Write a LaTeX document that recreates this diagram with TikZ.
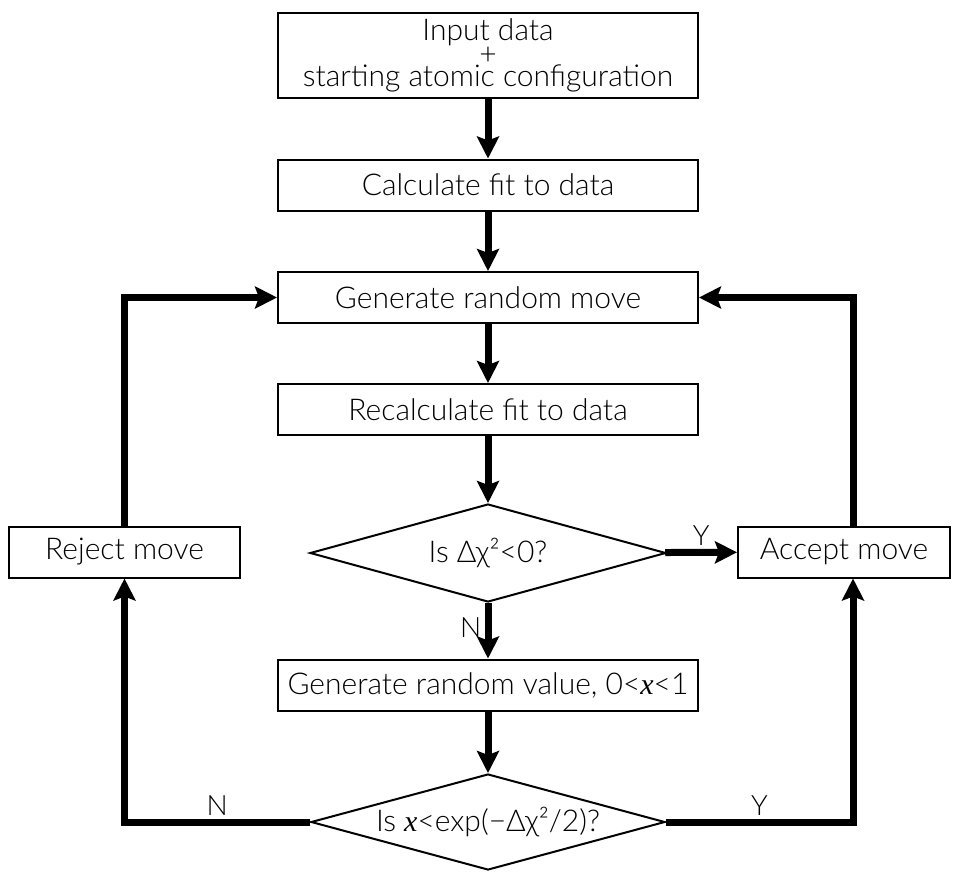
\documentclass[tikz,border=0pt]{standalone}
\usepackage{fontspec}
\setmainfont{Lato Light}
\newfontfamily\xfont{Liberation Serif}
\usetikzlibrary{arrows.meta,shapes.geometric}
\newcommand{\xvar}{{\xfont\itshape x}}

\begin{document}
\begin{tikzpicture}[x=1pt,y=-1pt,
  every node/.style={font=\fontsize{30}{34}\selectfont},
  stepbox/.style={draw, line width=2pt, minimum width=420pt, minimum height=51pt, inner sep=0pt},
  sidebox/.style={draw, line width=2pt, minimum height=51pt, inner sep=0pt},
  decision/.style={draw, diamond, line width=2pt, inner sep=0pt, aspect=3.6},
  flow/.style={line width=7pt, -{Stealth[length=22pt,width=22pt,inset=4pt]}},
  lbl/.style={font=\fontsize{28}{30}\selectfont}]

\useasboundingbox (0,0) rectangle (960,871);

% process boxes of the main column
\node[stepbox, minimum height=85pt, align=center, font=\fontsize{30}{22}\selectfont]
  (input) at (488,55.5) {Input data\\+\\starting atomic configuration};
\node[stepbox] (calc)   at (488,185)   {Calculate fit to data};
\node[stepbox] (gen)    at (488,297.5) {Generate random move};
\node[stepbox] (recalc) at (488,409.5) {Recalculate fit to data};

% first test
\node[decision, minimum width=356pt, minimum height=98pt] (test1) at (488,553) {};
\node (test1t) at (test1) {Is Δχ²<0?};

% outcomes
\node[sidebox, minimum width=212pt] (accept) at (844,552) {Accept move};
\node[sidebox, minimum width=231pt] (reject) at (124.5,552) {Reject move};

\node[stepbox] (rand) at (488,685) {Generate random value, 0<\xvar<1};

% second test
\node[decision, minimum width=354pt, minimum height=96pt] (test2) at (488,822) {};
\node (test2t) at (test2) {Is \xvar<exp(−Δχ²/2)?};

% connectors
\draw[flow] (input) -- (calc);
\draw[flow] (calc) -- (gen);
\draw[flow] (gen) -- (recalc);
\draw[flow] (recalc) -- (test1);
\draw[flow] (test1) -- node[lbl, above] (y1) {Y} (accept);
\draw[flow] (test1) -- node[lbl, left, pos=0.45] (n1) {N} (rand);
\draw[flow] (rand) -- (test2);
\draw[flow] (test2.west) -| node[lbl, above, pos=0.25] (n2) {N} (reject.south);
\draw[flow] (test2.east) -| node[lbl, above, pos=0.25] (y2) {Y} ([xshift=9pt]accept.south);
\draw[flow] (reject.north) |- (gen.west);
\draw[flow] ([xshift=9pt]accept.north) |- (gen.east);
\end{tikzpicture}
\end{document}
